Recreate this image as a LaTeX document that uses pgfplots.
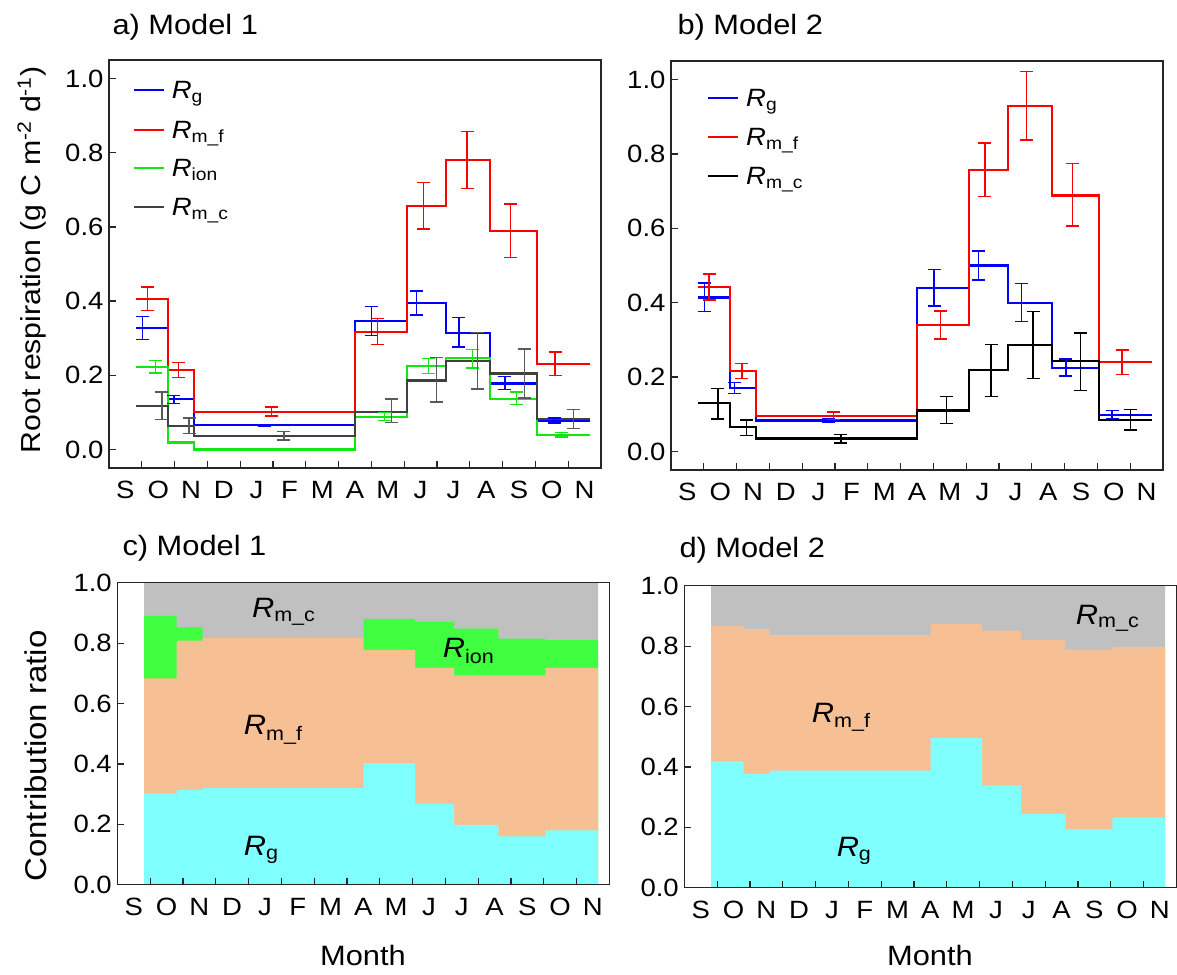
\documentclass[border=0pt]{standalone}
\usepackage{fontspec}
\setmainfont{Liberation Sans}[FakeStretch=1.1]
\usepackage{pgfplots}
\pgfplotsset{compat=1.18}

\definecolor{cR}{RGB}{255,0,0}
\definecolor{cB}{RGB}{0,0,255}
\definecolor{cG}{RGB}{20,230,20}
\definecolor{cK}{RGB}{64,64,64}
\definecolor{eK}{RGB}{90,90,90}
\definecolor{fCy}{RGB}{128,255,255}
\definecolor{fOr}{RGB}{247,191,148}
\definecolor{fGr}{RGB}{64,255,64}
\definecolor{fGy}{RGB}{192,192,192}

\newcommand\R[1]{\textit{R}\textsubscript{#1}}
\newcommand\fs[1]{\fontsize{#1}{#1}\selectfont}
% legend row: colour, x of line start, y of line, text
\newcommand\legrow[4]{%
  \draw[#1, line width=2pt] (#2pt,-#3pt) -- ++(30pt,0pt);
  \node[anchor=base west, inner sep=0pt, font=\fs{25}] at (#2pt+38pt,-#3pt-8.3pt) {#4};}

\pgfplotsset{
  panel/.style={
    scale only axis, width=492pt,
    xmin=0, xmax=15,
    xtick={1,2,...,14}, xticklabels={},
    extra x ticks={0.5,1.5,...,14.5},
    extra x tick labels={S,O,N,D,J,F,M,A,M,J,J,A,S,O,N},
    extra x tick style={major tick length=0pt, xticklabel style={font=\fs{25}, yshift=-10pt}},
    major tick length=7pt,
    xtick pos=left, ytick pos=left,
    ytick={0,0.2,0.4,0.6,0.8,1.0},
    tick label style={font=\fs{25}},
    yticklabel style={xshift=-2pt, /pgf/number format/.cd, fixed, fixed zerofill, precision=1},
    /pgf/number format/assume math mode=true,
    axis line style={black!85, line width=1.3pt},
    every tick/.style={black!85, line width=1.2pt},
  },
  stepline/.style={const plot, line width=2.2pt},
  ebar/.style={draw=none, mark=none,
    error bars/.cd, y dir=both, y explicit,
    error bar style={draw=#1, line width=1.4pt},
    error mark options={draw=#1, line width=1.4pt, mark size=6.5pt, rotate=90}},
}

\begin{document}
\begin{tikzpicture}
\useasboundingbox (0,0) rectangle (1177pt,-974pt);

% a) Model 1
\begin{axis}[panel, at={(109pt,-60pt)}, anchor=north west, height=408pt,
  ymin=-0.05, ymax=1.05]
\addplot[stepline, draw=cB] coordinates {(0.82,0.328) (1.81,0.135) (2.60,0.065) (7.51,0.346) (9.08,0.395) (10.27,0.315) (11.62,0.178) (13.05,0.078) (14.66,0.078)};
\addplot[stepline, draw=cR] coordinates {(0.82,0.406) (1.81,0.214) (2.60,0.101) (7.51,0.317) (9.08,0.657) (10.27,0.781) (11.62,0.590) (13.05,0.231) (14.66,0.231)};
\addplot[stepline, draw=cG] coordinates {(0.82,0.222) (1.81,0.019) (2.60,0.0) (7.51,0.087) (9.08,0.224) (10.27,0.247) (11.62,0.135) (13.05,0.038) (14.66,0.038)};
\addplot[stepline, draw=cK] coordinates {(0.82,0.117) (1.81,0.063) (2.60,0.036) (7.51,0.102) (9.08,0.186) (10.27,0.238) (11.62,0.205) (13.05,0.082) (14.66,0.082)};
\addplot[ebar=cB] coordinates {(1.03,0.328) +- (0,0.031) (1.98,0.135) +- (0,0.011) (4.75,0.065) +- (0,0.003) (8.00,0.347) +- (0,0.039) (9.37,0.395) +- (0,0.032) (10.67,0.316) +- (0,0.040) (12.07,0.179) +- (0,0.018) (13.57,0.078) +- (0,0.007)};
\addplot[ebar=cR] coordinates {(1.17,0.406) +- (0,0.032) (2.11,0.214) +- (0,0.020) (4.95,0.102) +- (0,0.012) (8.19,0.318) +- (0,0.035) (9.58,0.657) +- (0,0.063) (10.92,0.781) +- (0,0.077) (12.24,0.590) +- (0,0.072) (13.60,0.231) +- (0,0.032)};
\addplot[ebar=cG] coordinates {(1.42,0.223) +- (0,0.017) (2.14,0.019) +- (0,0.002) (8.40,0.089) +- (0,0.011) (9.74,0.225) +- (0,0.021) (11.08,0.245) +- (0,0.025) (12.42,0.138) +- (0,0.017) (13.79,0.040) +- (0,0.006)};
\addplot[ebar=eK] coordinates {(1.61,0.118) +- (0,0.037) (2.44,0.064) +- (0,0.021) (5.33,0.037) +- (0,0.012) (8.62,0.104) +- (0,0.032) (9.98,0.188) +- (0,0.060) (11.24,0.239) +- (0,0.076) (12.66,0.205) +- (0,0.066) (14.16,0.082) +- (0,0.026)};
\end{axis}

% b) Model 2
\begin{axis}[panel, at={(671pt,-61pt)}, anchor=north west, height=409pt,
  ymin=-0.05, ymax=1.05]
\addplot[stepline, draw=cB] coordinates {(0.82,0.414) (1.81,0.171) (2.60,0.083) (7.51,0.440) (9.08,0.500) (10.27,0.400) (11.62,0.225) (13.05,0.098) (14.66,0.098)};
\addplot[stepline, draw=cR] coordinates {(0.82,0.443) (1.81,0.217) (2.60,0.095) (7.51,0.340) (9.08,0.757) (10.27,0.930) (11.62,0.688) (13.05,0.240) (14.66,0.240)};
\addplot[stepline, draw=black] coordinates {(0.82,0.130) (1.81,0.065) (2.60,0.035) (7.51,0.110) (9.08,0.218) (10.27,0.287) (11.62,0.243) (13.05,0.085) (14.66,0.085)};
\addplot[ebar=cB] coordinates {(1.02,0.415) +- (0,0.038) (1.94,0.171) +- (0,0.015) (4.79,0.083) +- (0,0.004) (8.02,0.440) +- (0,0.049) (9.38,0.500) +- (0,0.039) (10.68,0.400) +- (0,0.051) (12.04,0.226) +- (0,0.023) (13.45,0.099) +- (0,0.011)};
\addplot[ebar=cR] coordinates {(1.16,0.442) +- (0,0.035) (2.16,0.216) +- (0,0.020) (4.96,0.096) +- (0,0.010) (8.22,0.340) +- (0,0.038) (9.57,0.758) +- (0,0.072) (10.83,0.930) +- (0,0.092) (12.24,0.690) +- (0,0.084) (13.75,0.240) +- (0,0.033)};
\addplot[ebar=black] coordinates {(1.43,0.128) +- (0,0.041) (2.30,0.064) +- (0,0.021) (5.18,0.034) +- (0,0.011) (8.40,0.111) +- (0,0.036) (9.76,0.218) +- (0,0.070) (11.04,0.286) +- (0,0.090) (12.48,0.241) +- (0,0.077) (14.00,0.085) +- (0,0.027)};
\end{axis}

% c) Model 1
\begin{axis}[panel, axis on top, at={(117.3pt,-582.7pt)}, anchor=north west, height=302pt,
  ymin=0, ymax=1]
\addplot[const plot, fill=fGy, draw=none] coordinates {(0.82,1) (14.66,1)} \closedcycle;
\addplot[const plot, fill=fGr, draw=none] coordinates {(0.82,0.890) (1.81,0.852) (2.60,0.818) (7.51,0.880) (9.08,0.870) (10.27,0.848) (11.62,0.815) (13.05,0.810) (14.66,0.810)} \closedcycle;
\addplot[const plot, fill=fOr, draw=none] coordinates {(0.82,0.683) (1.81,0.808) (2.60,0.818) (7.51,0.778) (9.08,0.718) (10.27,0.693) (11.62,0.693) (13.05,0.718) (14.66,0.718)} \closedcycle;
\addplot[const plot, fill=fCy, draw=none] coordinates {(0.82,0.302) (1.81,0.313) (2.60,0.320) (7.51,0.403) (9.08,0.268) (10.27,0.198) (11.62,0.160) (13.05,0.180) (14.66,0.180)} \closedcycle;
\node[anchor=base west, font=\fs{28}] at (axis cs:4.0,0.885) {\R{m\_c}};
\node[anchor=base west, font=\fs{28}] at (axis cs:3.75,0.497) {\R{m\_f}};
\node[anchor=base west, font=\fs{28}] at (axis cs:3.75,0.096) {\R{g}};
\node[anchor=base west, font=\fs{28}] at (axis cs:9.82,0.751) {\R{ion}};
\end{axis}

% d) Model 2
\begin{axis}[panel, axis on top, at={(684.3pt,-585.7pt)}, anchor=north west, height=302pt,
  ymin=0, ymax=1]
\addplot[const plot, fill=fGy, draw=none] coordinates {(0.82,1) (14.66,1)} \closedcycle;
\addplot[const plot, fill=fOr, draw=none] coordinates {(0.82,0.867) (1.81,0.857) (2.60,0.836) (7.51,0.873) (9.08,0.851) (10.27,0.820) (11.62,0.788) (13.05,0.797) (14.66,0.797)} \closedcycle;
\addplot[const plot, fill=fCy, draw=none] coordinates {(0.82,0.418) (1.81,0.378) (2.60,0.388) (7.51,0.495) (9.08,0.338) (10.27,0.245) (11.62,0.193) (13.05,0.232) (14.66,0.232)} \closedcycle;
\node[anchor=base west, font=\fs{28}] at (axis cs:11.83,0.873) {\R{m\_c}};
\node[anchor=base west, font=\fs{28}] at (axis cs:3.78,0.548) {\R{m\_f}};
\node[anchor=base west, font=\fs{28}] at (axis cs:4.54,0.102) {\R{g}};
\end{axis}

% legends
\legrow{cB}{133.6}{90}{\R{g}}
\legrow{cR}{133.6}{130}{\R{m\_f}}
\legrow{cG}{133.6}{168}{\R{ion}}
\legrow{cK}{133.6}{207}{\R{m\_c}}
\legrow{cB}{708}{98}{\R{g}}
\legrow{cR}{708}{137}{\R{m\_f}}
\legrow{black}{708}{176}{\R{m\_c}}

% titles and axis labels
\node[anchor=base west, font=\fs{28}] at (109pt,-34.3pt) {a) Model 1};
\node[anchor=base west, font=\fs{28}] at (674pt,-34.3pt) {b) Model 2};
\node[anchor=base west, font=\fs{28}] at (119pt,-555pt) {c) Model 1};
\node[anchor=base west, font=\fs{28}] at (676pt,-557pt) {d) Model 2};
\node[rotate=90, anchor=base, font=\fs{27.5}] at (40pt,-260pt) {Root respiration (g C m\textsuperscript{-2} d\textsuperscript{-1})};
\node[rotate=90, anchor=base, font=\fs{30}] at (46.7pt,-756pt) {Contribution ratio};
\node[anchor=base, font=\fs{28}] at (363pt,-965pt) {Month};
\node[anchor=base, font=\fs{28}] at (930pt,-965pt) {Month};
\end{tikzpicture}
\end{document}
